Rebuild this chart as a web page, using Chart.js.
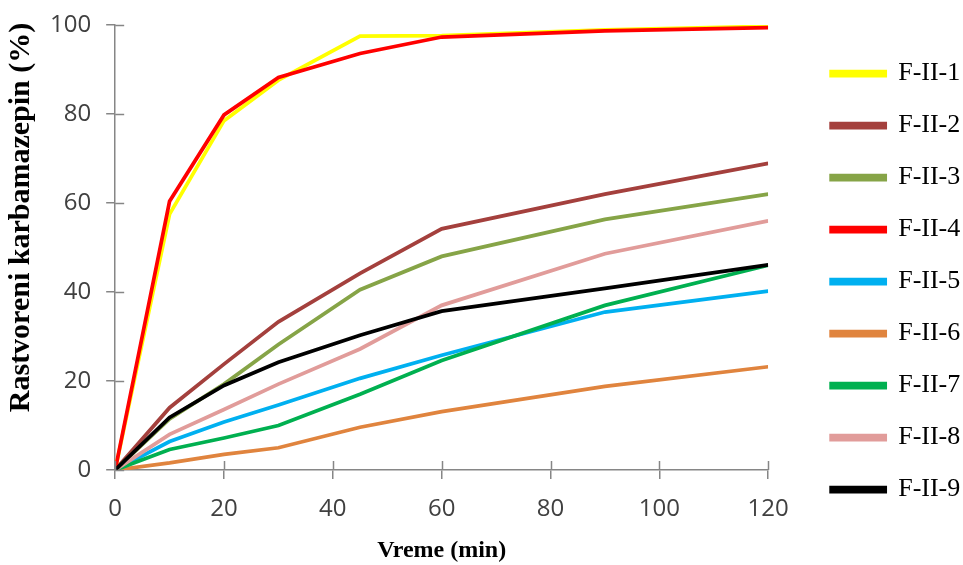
<!DOCTYPE html>
<html>
<head>
<meta charset="utf-8">
<script src="https://cdn.jsdelivr.net/npm/chart.js@4.4.1/dist/chart.umd.min.js"></script>
<style>
    html, body { margin: 0; padding: 0; background: #ffffff; }
    #wrap { width: 963px; height: 565px; }
</style>
</head>
<body>
<div id="wrap"><canvas id="releaseChart" width="963" height="565"></canvas></div>
<script>
const minutes = [0, 10, 20, 30, 45, 60, 90, 120];

const fII1 = [0, 57.5, 78.5, 87.6, 97.5, 97.6, 98.9, 99.7];
const fII2 = [0, 14.0, 23.8, 33.3, 44.2, 54.2, 62.0, 68.9];
const fII3 = [0, 11.5, 19.3, 28.2, 40.5, 48.0, 56.3, 62.0];
const fII4 = [0, 60.4, 79.8, 88.2, 93.6, 97.3, 98.7, 99.4];
const fII5 = [0, 6.4, 10.8, 14.6, 20.6, 25.8, 35.5, 40.2];
const fII6 = [0, 1.6, 3.5, 5.0, 9.6, 13.1, 18.8, 23.2];
const fII7 = [0, 4.6, 7.2, 10.0, 17.0, 24.6, 37.0, 46.0];
const fII8 = [0, 8.0, 13.6, 19.3, 27.2, 37.0, 48.6, 56.0];
const fII9 = [0, 11.8, 19.0, 24.2, 30.3, 35.7, 40.8, 46.1];

const seriesNames = ["F-II-1", "F-II-2", "F-II-3", "F-II-4", "F-II-5", "F-II-6", "F-II-7", "F-II-8", "F-II-9"];
const seriesValues = [fII1, fII2, fII3, fII4, fII5, fII6, fII7, fII8, fII9];
const seriesColors = ["#FFFF00", "#A4403D", "#86A447", "#FF0000", "#00B0F0", "#E0843E", "#00B050", "#E19C9A", "#000000"];

const xTicks = [0, 20, 40, 60, 80, 100, 120];
const yTicks = [0, 20, 40, 60, 80, 100];

const axisGray = "#868686";

// ticks that cross the axis line (inner half, outer half is drawn by Chart.js)
const innerTicks = {
    id: "innerTicks",
    afterDraw(chart) {
        const ctx = chart.ctx;
        const area = chart.chartArea;
        const x = chart.scales.x;
        const y = chart.scales.y;
        ctx.save();
        ctx.strokeStyle = axisGray;
        ctx.lineWidth = 1.5;
        ctx.beginPath();
        xTicks.forEach(v => {
            const px = Math.round(x.getPixelForValue(v)) + 0.5;
            ctx.moveTo(px, area.bottom);
            ctx.lineTo(px, area.bottom - 9);
        });
        yTicks.forEach(v => {
            const py = Math.round(y.getPixelForValue(v)) + 0.5;
            ctx.moveTo(area.left, py);
            ctx.lineTo(area.left + 9, py);
        });
        ctx.stroke();
        ctx.restore();
    }
};

const datasets = seriesNames.map((name, i) => ({
    label: name,
    data: minutes.map((m, k) => ({ x: m, y: seriesValues[i][k] })),
    borderColor: seriesColors[i],
    backgroundColor: seriesColors[i],
    borderWidth: 3.75,
    pointRadius: 0,
    tension: 0,
    fill: false,
    order: seriesNames.length - i
}));

new Chart(document.getElementById("releaseChart"), {
    type: "line",
    data: { datasets: datasets },
    plugins: [innerTicks],
    options: {
        responsive: false,
        animation: false,
        layout: {
            padding: { top: 0, bottom: 2, left: 1, right: -3 }
        },
        plugins: {
            tooltip: { enabled: false },
            legend: {
                position: "right",
                align: "center",
                labels: {
                    sort: (a, b) => a.datasetIndex - b.datasetIndex,
                    boxWidth: 54,
                    boxHeight: 4,
                    padding: 26,
                    color: "#000000",
                    font: { family: "'Liberation Serif', 'Times New Roman', serif", size: 26 }
                }
            }
        },
        scales: {
            x: {
                type: "linear",
                min: 0,
                max: 120,
                afterBuildTicks: scale => {
                    scale.ticks = xTicks.map(v => ({ value: v }));
                },
                border: { color: axisGray, width: 1.5 },
                grid: {
                    drawOnChartArea: false,
                    color: axisGray,
                    lineWidth: 1.5,
                    tickLength: 9
                },
                ticks: {
                    padding: 18,
                    color: "#404040",
                    font: { family: "'Open Sans', sans-serif", size: 24, lineHeight: 1 }
                },
                title: {
                    display: true,
                    text: "Vreme (min)",
                    color: "#000000",
                    padding: { top: 0, bottom: 0 },
                    font: { family: "'Liberation Serif', 'Times New Roman', serif", size: 24, weight: "bold", lineHeight: 1 }
                }
            },
            y: {
                min: 0,
                max: 100,
                afterBuildTicks: scale => {
                    scale.ticks = yTicks.map(v => ({ value: v }));
                },
                afterFit: scale => {
                    scale.paddingTop = 25;
                    scale.paddingBottom = 0;
                },
                border: { color: axisGray, width: 1.5 },
                grid: {
                    drawOnChartArea: false,
                    color: axisGray,
                    lineWidth: 1.5,
                    tickLength: 9
                },
                ticks: {
                    padding: 15,
                    color: "#404040",
                    font: { family: "'Open Sans', sans-serif", size: 24 }
                },
                title: {
                    display: true,
                    text: "        Rastvoreni karbamazepin (%)",
                    color: "#000000",
                    padding: { top: 7, bottom: 0 },
                    font: { family: "'Liberation Serif', 'Times New Roman', serif", size: 30, weight: "bold", lineHeight: 0.9 }
                }
            },
            // empty spacer between the plot and the legend
            gap: {
                position: "right",
                min: 0,
                max: 1,
                grid: { display: false },
                border: { display: false },
                ticks: { display: false },
                afterFit: scale => {
                    scale.width = 37;
                }
            }
        }
    }
});
</script>
</body>
</html>
